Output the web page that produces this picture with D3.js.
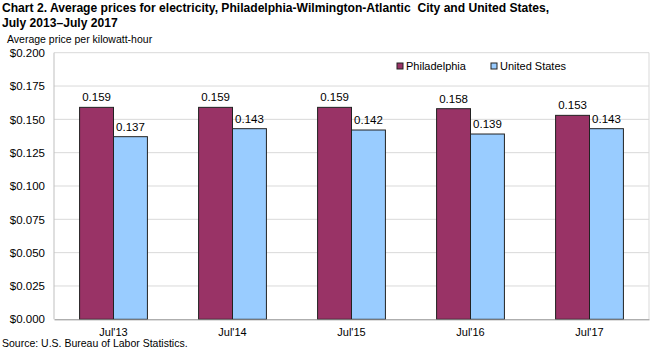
<!DOCTYPE html>
<html lang="en">
<head>
    <meta charset="UTF-8">
    <title>Chart 2</title>
    <script src="https://d3js.org/d3.v7.min.js"></script>
    <style>
        body { margin: 0; background: #fff; }
        svg text { font-family: "Liberation Sans", Arial, sans-serif; fill: #000; }
    </style>
</head>
<body>
    <div id="chart"></div>
    <script>
        const categories = ["Jul'13", "Jul'14", "Jul'15", "Jul'16", "Jul'17"];
        const philadelphia = [0.159, 0.159, 0.159, 0.158, 0.153];
        const unitedStates = [0.137, 0.143, 0.142, 0.139, 0.143];
        const seriesNames = ["Philadelphia", "United States"];
        const yTicks = [0, 0.025, 0.05, 0.075, 0.1, 0.125, 0.15, 0.175, 0.2];

        const w = 650;
        const h = 351;
        const plotLeft = 54, plotRight = 649, plotTop = 52.7, plotBottom = 319.3;
        const colors = ["#993366", "#99ccff"];

        const svg = d3.select('#chart')
            .append('svg')
            .attr("width", w)
            .attr("height", h);

        // title
        svg.append('text').attr("x", 2).attr("y", 12)
            .style("font-size", "12.1px").style("font-weight", "bold")
            .text("Chart 2. Average prices for electricity, Philadelphia-Wilmington-Atlantic\u00a0 City and United States,");
        svg.append('text').attr("x", 2).attr("y", 27)
            .style("font-size", "12.1px").style("font-weight", "bold")
            .text("July 2013\u2013July 2017");
        svg.append('text').attr("x", 7).attr("y", 43)
            .style("font-size", "10.5px")
            .text("Average price per kilowatt-hour");

        const xScale = d3.scaleBand()
            .domain(categories)
            .range([plotLeft, plotRight])
            .paddingInner(0.43)
            .paddingOuter(0.215);
        const sub = d3.scaleBand()
            .domain(seriesNames)
            .range([0, xScale.bandwidth()]);
        const yScale = d3.scaleLinear()
            .domain([0, 0.2])
            .range([plotBottom, plotTop]);

        // gridlines
        svg.append('g')
            .selectAll('line')
            .data(yTicks.slice(1))
            .enter()
            .append('line')
            .attr("x1", plotLeft).attr("x2", plotRight)
            .attr("y1", d => yScale(d)).attr("y2", d => yScale(d))
            .attr("stroke", "#d9d9d9")
            .attr("stroke-width", 1);

        // frame sides
        svg.append('line').attr("x1", plotLeft).attr("x2", plotLeft).attr("y1", plotTop).attr("y2", plotBottom)
            .attr("stroke", "#bfbfbf");
        svg.append('line').attr("x1", plotRight).attr("x2", plotRight).attr("y1", plotTop).attr("y2", plotBottom)
            .attr("stroke", "#d9d9d9");

        const yAxis = d3.axisLeft(yScale)
            .tickValues(yTicks)
            .tickSize(0)
            .tickPadding(9)
            .tickFormat(d => "$" + d3.format(".3f")(d));
        const yg = svg.append('g')
            .attr("transform", "translate(" + plotLeft + ",0)")
            .call(yAxis);
        yg.select(".domain").remove();
        yg.selectAll("text").style("font-size", "11.5px").style("font-family", "Liberation Sans, Arial, sans-serif");

        const groups = svg.selectAll('.grp')
            .data(categories)
            .enter()
            .append('g')
            .attr("class", "grp")
            .attr("transform", d => "translate(" + xScale(d) + ",0)");

        const series = [philadelphia, unitedStates];
        series.forEach((vals, s) => {
            groups.append('rect')
                .attr("x", sub(seriesNames[s]))
                .attr("y", (d, i) => yScale(vals[i]))
                .attr("width", sub.bandwidth())
                .attr("height", (d, i) => yScale(0) - yScale(vals[i]))
                .attr("fill", colors[s])
                .attr("stroke", "#222")
                .attr("stroke-width", 1);
            groups.append('text')
                .attr("x", sub(seriesNames[s]) + sub.bandwidth() / 2)
                .attr("y", (d, i) => yScale(vals[i]) - 6)
                .attr("text-anchor", "middle")
                .style("font-size", "11.5px")
                .text((d, i) => d3.format(".3f")(vals[i]));
        });

        const xAxis = d3.axisBottom(xScale).tickSize(0).tickPadding(9);
        const xg = svg.append('g')
            .attr("transform", "translate(0," + plotBottom + ")")
            .call(xAxis);
        xg.select(".domain").attr("stroke", "#8c8c8c");
        xg.selectAll("text").style("font-size", "11px").style("font-family", "Liberation Sans, Arial, sans-serif");

        // legend
        const legend = svg.append('g');
        const legendX = [397, 491];
        seriesNames.forEach((name, s) => {
            legend.append('rect')
                .attr("x", legendX[s]).attr("y", 63)
                .attr("width", 6).attr("height", 6)
                .attr("fill", colors[s]).attr("stroke", "#222");
            legend.append('text')
                .attr("x", legendX[s] + 9).attr("y", 70)
                .style("font-size", "11px")
                .text(name);
        });

        svg.append('text').attr("x", 2).attr("y", 347)
            .style("font-size", "10.5px")
            .text("Source: U.S. Bureau of Labor Statistics.");
    </script>
</body>
</html>
